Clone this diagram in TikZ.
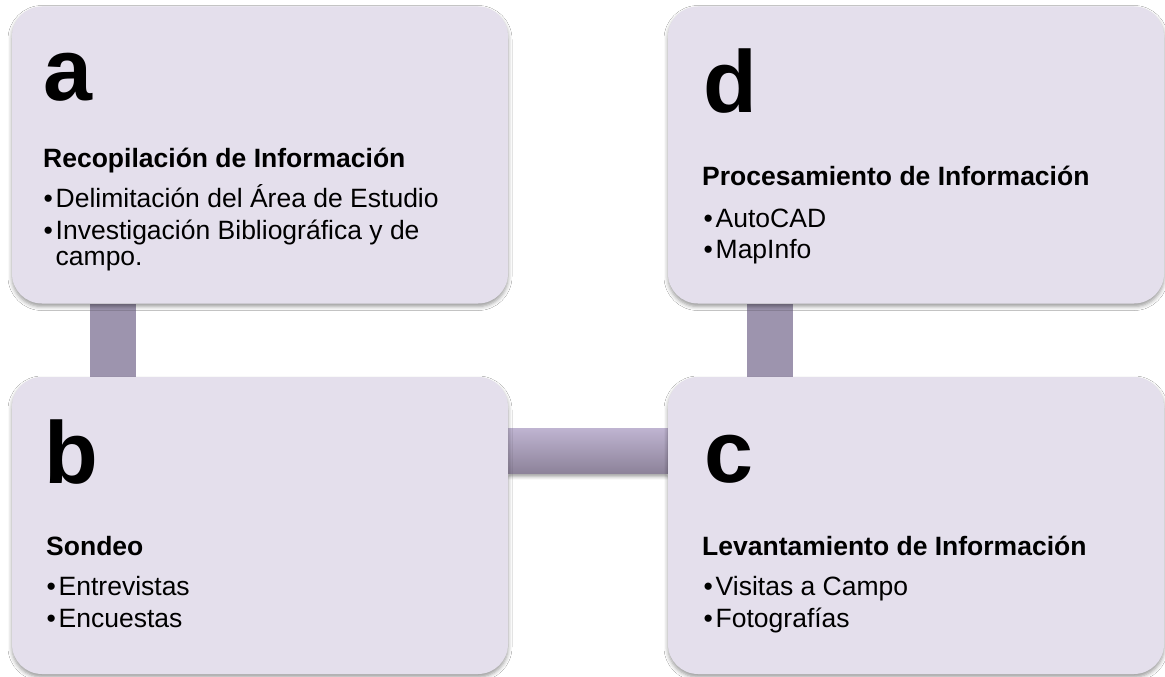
\documentclass[tikz,border=0pt]{standalone}
\usepackage{fontspec}
\setmainfont{Liberation Sans}
\usetikzlibrary{shadows.blur,backgrounds}
\definecolor{boxfill}{RGB}{228,223,236}
\definecolor{bartop}{RGB}{190,179,208}
\definecolor{barbot}{RGB}{140,130,153}
\definecolor{barv}{RGB}{157,148,174}
\begin{document}
\begin{tikzpicture}[x=1pt,y=-1pt,
  stagebox/.style={rounded corners=30pt, fill=boxfill, minimum width=496pt, minimum height=297pt, inner sep=0pt,
    blur shadow={shadow xshift=0pt, shadow yshift=-3pt, shadow blur radius=4pt, shadow opacity=40}},
  bigletter/.style={anchor=base west, inner sep=0pt, font=\fontsize{88}{88}\selectfont\bfseries},
  stitle/.style={anchor=base west, inner sep=0pt, font=\fontsize{26.5}{30}\selectfont\bfseries},
  sitem/.style={anchor=base west, inner sep=0pt, font=\fontsize{26.5}{30}\selectfont},
]
\useasboundingbox (0,0) rectangle (1165,677);
\newcommand{\bul}[1]{\makebox[12pt][l]{•}#1}

\node[stagebox] (a) at (260,155) {};
\node[stagebox] (d) at (916,155) {};
\node[stagebox] (b) at (260,525.5) {};
\node[stagebox] (c) at (916,525.5) {};

\begin{scope}[on background layer]
  \fill[white] (0,0) rectangle (1165,677);
  \fill[barv] ([xshift=78pt]a.south west) rectangle ([xshift=124pt]b.north west);
  \fill[barv] ([xshift=79pt]d.south west) rectangle ([xshift=125pt]c.north west);
  \shade[top color=bartop, bottom color=barbot,
    blur shadow={shadow xshift=0pt, shadow yshift=-3pt, shadow blur radius=3pt, shadow opacity=35}]
    ([yshift=-52pt]b.north east) rectangle ([yshift=-97pt]c.north west);
\end{scope}

% box a
\node[bigletter] (al) at (43,100) {a};
\node[stitle] (at) at (43,167) {Recopilación de Información};
\node[sitem] (a1) at (43.5,207) {\bul{Delimitación del Área de Estudio}};
\node[sitem] (a2) at (43.5,239) {\bul{Investigación Bibliográfica y de}};
\node[sitem] (a3) at (55.5,265) {campo.};

% box d
\node[bigletter] (dl) at (703,113) {d};
\node[stitle] (dt) at (702,185) {Procesamiento de Información};
\node[sitem] (d1) at (703.5,227) {\bul{AutoCAD}};
\node[sitem] (d2) at (703.5,258) {\bul{MapInfo}};

% box b
\node[bigletter] (bl) at (44,483) {b};
\node[stitle] (bt) at (46,555) {Sondeo};
\node[sitem] (b1) at (46.5,595) {\bul{Entrevistas}};
\node[sitem] (b2) at (46.5,627) {\bul{Encuestas}};

% box c
\node[bigletter] (cl) at (704,482) {c};
\node[stitle] (ct) at (702,555) {Levantamiento de Información};
\node[sitem] (c1) at (703.5,595) {\bul{Visitas a Campo}};
\node[sitem] (c2) at (703.5,627) {\bul{Fotografías}};
\end{tikzpicture}
\end{document}
